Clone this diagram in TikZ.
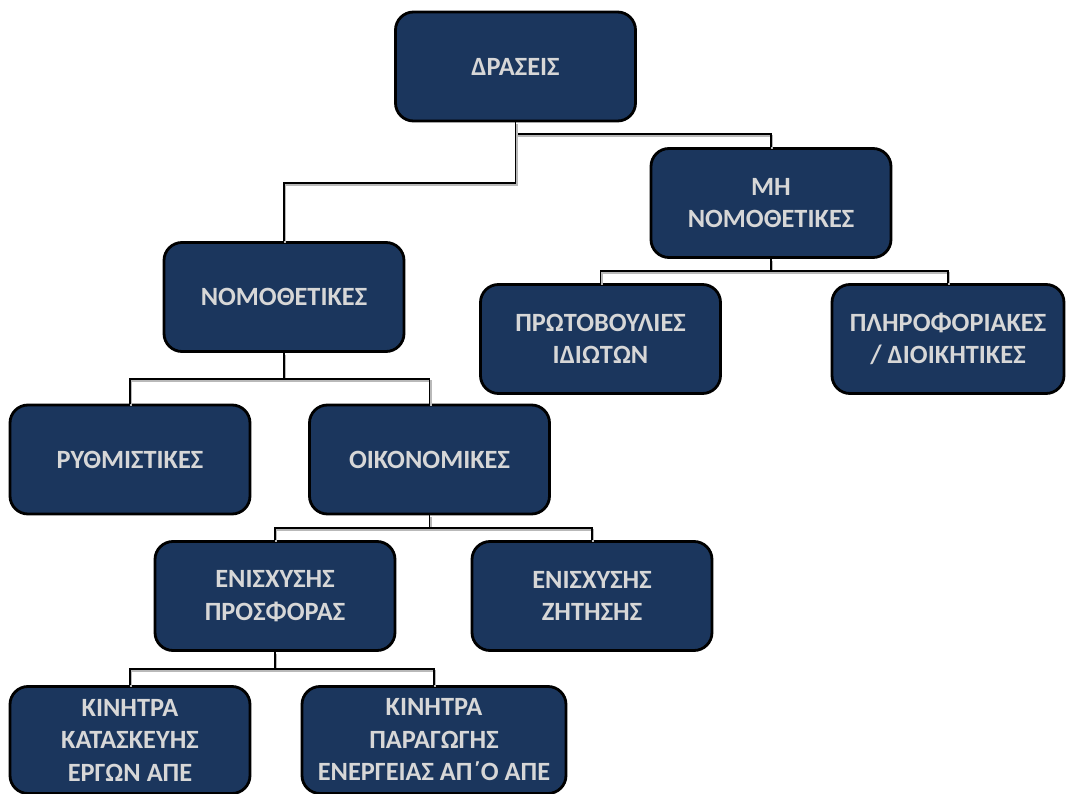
\documentclass[tikz,border=0pt]{standalone}
\usepackage{fontspec}
\setmainfont{Carlito}
\usepackage{tikz}
\usetikzlibrary{positioning,calc}
\definecolor{navy}{RGB}{27,54,93}
\definecolor{txtgray}{RGB}{215,215,215}

\begin{document}
\begin{tikzpicture}[
    blok/.style={draw=black, line width=1.6pt, fill=navy, rounded corners=0.36cm,
                 minimum width=4.8cm, minimum height=2.18cm, align=center,
                 text=txtgray, font=\fontsize{15}{18.5}\selectfont\bfseries},
    link/.style={line width=1.1pt, draw=black,
                 preaction={draw=gray!55, line width=1.1pt, transform canvas={shift={(0.6pt,-1.1pt)}}}}
  ]
  \useasboundingbox (0,0) rectangle (21.32,-15.88);

  \node[blok] (draseis) at (10.31,-1.33) {ΔΡΑΣΕΙΣ};
  \node[blok] (mi) at (15.42,-4.06) {ΜΗ\\ΝΟΜΟΘΕΤΙΚΕΣ};
  \node[blok] (nomo) at (5.68,-5.94) {ΝΟΜΟΘΕΤΙΚΕΣ};
  \node[blok] (protov) at (12.01,-6.78) {ΠΡΩΤΟΒΟΥΛΙΕΣ\\ΙΔΙΩΤΩΝ};
  \node[blok, minimum width=4.64cm] (plir) at (18.96,-6.78) {ΠΛΗΡΟΦΟΡΙΑΚΕΣ\\/ ΔΙΟΙΚΗΤΙΚΕΣ};
  \node[blok] (rythm) at (2.6,-9.19) {ΡΥΘΜΙΣΤΙΚΕΣ};
  \node[blok] (oikon) at (8.59,-9.19) {ΟΙΚΟΝΟΜΙΚΕΣ};
  \node[blok] (prosf) at (5.5,-11.92) {ΕΝΙΣΧΥΣΗΣ\\ΠΡΟΣΦΟΡΑΣ};
  \node[blok] (zitisi) at (11.84,-11.92) {ΕΝΙΣΧΥΣΗΣ\\ΖΗΤΗΣΗΣ};
  \node[blok, minimum height=2.14cm] (kataskevi) at (2.6,-14.8) {ΚΙΝΗΤΡΑ\\ΚΑΤΑΣΚΕΥΗΣ\\ΕΡΓΩΝ ΑΠΕ};
  \node[blok, minimum height=2.14cm, minimum width=5.28cm] (paragogi) at (8.68,-14.8) {ΚΙΝΗΤΡΑ\\ΠΑΡΑΓΩΓΗΣ\\ΕΝΕΡΓΕΙΑΣ ΑΠ΄Ο ΑΠΕ};

  % tree connectors
  \draw[link] (draseis.south) -- ++(0,-0.24) -| (mi.north);
  \draw[link] (draseis.south) -- ++(0,-1.22) -| (nomo.north);
  \draw[link] (mi.south) -- ++(0,-0.24) -| (protov.north);
  \draw[link] (mi.south) -- ++(0,-0.24) -| (plir.north);
  \draw[link] (nomo.south) -- ++(0,-0.52) -| (rythm.north);
  \draw[link] (nomo.south) -- ++(0,-0.52) -| (oikon.north);
  \draw[link] (oikon.south) -- ++(0,-0.26) -| (prosf.north);
  \draw[link] (oikon.south) -- ++(0,-0.26) -| (zitisi.north);
  \draw[link] (prosf.south) -- ++(0,-0.34) -| (kataskevi.north);
  \draw[link] (prosf.south) -- ++(0,-0.34) -| (paragogi.north);
\end{tikzpicture}
\end{document}
